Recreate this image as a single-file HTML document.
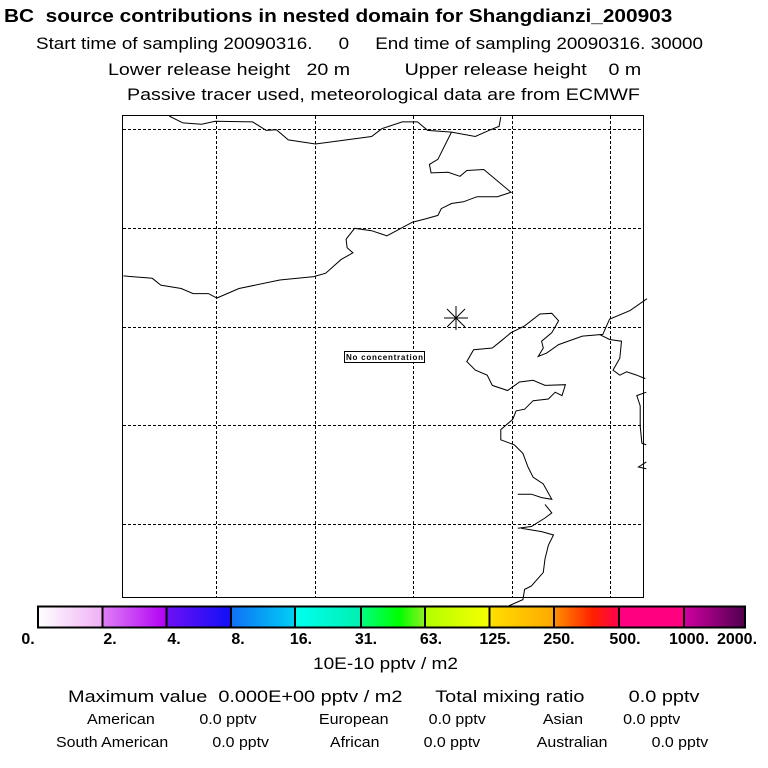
<!DOCTYPE html><html><head><style>
body{margin:0;background:#fff;width:768px;height:768px;overflow:hidden;font-family:"Liberation Sans",sans-serif;position:relative}
.t{position:absolute;white-space:pre;color:#000;transform-origin:0 0}
</style></head><body>
<div class="t" style="left:4px;top:6px;font-size:18px;font-weight:bold;transform:scaleX(1.156)">BC  source contributions in nested domain for Shangdianzi_200903</div>
<div class="t" style="left:36px;top:34px;font-size:17px;transform:scaleX(1.108)">Start time of sampling 20090316.     0     End time of sampling 20090316. 30000</div>
<div class="t" style="left:108px;top:60px;font-size:17px;transform:scaleX(1.154)">Lower release height   20 m          Upper release height    0 m</div>
<div class="t" style="left:127px;top:85px;font-size:17px;transform:scaleX(1.155)">Passive tracer used, meteorological data are from ECMWF</div>
<svg style="position:absolute;left:0;top:0" width="768" height="768">
<rect x="122.5" y="115.5" width="521" height="482" fill="none" stroke="#000"/>
<g stroke="#000" stroke-dasharray="3,2" stroke-width="1">
<line x1="216.5" y1="116" x2="216.5" y2="597"/><line x1="315.5" y1="116" x2="315.5" y2="597"/><line x1="413.5" y1="116" x2="413.5" y2="597"/><line x1="512.5" y1="116" x2="512.5" y2="597"/><line x1="610.5" y1="116" x2="610.5" y2="597"/>
<line x1="123" y1="129.5" x2="643" y2="129.5"/><line x1="123" y1="228.5" x2="643" y2="228.5"/><line x1="123" y1="327.5" x2="643" y2="327.5"/><line x1="123" y1="425.5" x2="643" y2="425.5"/><line x1="123" y1="524.5" x2="643" y2="524.5"/>
</g>
<g transform="translate(120,110) scale(0.34)" fill="none" stroke="#000" stroke-width="3">
<polyline points="145,18 185,38 240,42 280,33 390,35 430,60 460,58 495,88 575,100 740,78 770,55 830,35 875,35 905,60 975,65 1045,78 1090,58 1115,48 1120,20"/>
<polyline points="975,65 935,145 910,160 915,185 965,183 1000,195 1020,178 1070,175 1150,242 1110,255 1050,255 1010,270 975,275 945,290 935,310 900,320 860,330 785,370 740,355 690,348 665,380 668,405 685,420 650,440 605,480 570,490 470,500 350,525 285,553 260,540 215,540 180,525 120,515 95,495 10,488"/>
<polyline points="1550,555 1500,590 1440,615 1420,660 1360,665 1290,690 1255,715 1230,725 1245,700 1240,680 1270,655 1290,620 1270,598 1235,600 1190,635 1150,655 1120,680 1095,700 1040,705 1020,740 1045,765 1080,780 1095,810 1140,825 1175,800 1215,795 1250,810 1310,808 1300,840 1280,830 1260,850 1215,855 1190,880 1165,885 1155,910 1120,940 1120,970 1160,985 1185,1010 1200,1050 1215,1080 1245,1100 1270,1145 1240,1140 1210,1130 1170,1130"/>
<polyline points="1170,1230 1210,1225 1250,1200 1270,1185 1250,1160"/>
<polyline points="1180,1230 1240,1240 1275,1250 1260,1280 1250,1320 1245,1360 1210,1400 1190,1410 1185,1440 1140,1460 1150,1468"/>
<polyline points="1410,660 1440,675 1475,680 1470,730 1450,765 1470,780 1490,770 1520,780 1545,790"/>
<polyline points="1548,830 1520,840 1530,870 1530,930 1535,980 1548,985"/>
<polyline points="1548,1035 1525,1050 1548,1055"/>
</g>
<g stroke="#000" stroke-width="1">
<line x1="444" y1="318" x2="468" y2="318"/><line x1="456" y1="306" x2="456" y2="330"/><line x1="447" y1="309" x2="465" y2="327"/><line x1="465" y1="309" x2="447" y2="327"/>
</g>
<rect x="344.5" y="351.5" width="80" height="11" fill="#fff" stroke="#000"/>
<text x="346" y="360" font-size="8" font-weight="bold" font-family="Liberation Sans" textLength="77">No concentration</text>
<defs>
<linearGradient id="g0"><stop offset="0" stop-color="#fff"/><stop offset="1" stop-color="#efb0f5"/></linearGradient>
<linearGradient id="g1"><stop offset="0" stop-color="#e080f5"/><stop offset="1" stop-color="#b000f5"/></linearGradient>
<linearGradient id="g2"><stop offset="0" stop-color="#7010f5"/><stop offset="1" stop-color="#1010f5"/></linearGradient>
<linearGradient id="g3"><stop offset="0" stop-color="#1070f5"/><stop offset="1" stop-color="#00d0f5"/></linearGradient>
<linearGradient id="g4"><stop offset="0" stop-color="#00fff0"/><stop offset="1" stop-color="#00f0b0"/></linearGradient>
<linearGradient id="g5"><stop offset="0" stop-color="#00ff80"/><stop offset="0.6" stop-color="#00ff00"/><stop offset="1" stop-color="#90f020"/></linearGradient>
<linearGradient id="g6"><stop offset="0" stop-color="#b0ff00"/><stop offset="1" stop-color="#f8ff00"/></linearGradient>
<linearGradient id="g7"><stop offset="0" stop-color="#ffe000"/><stop offset="1" stop-color="#ffa800"/></linearGradient>
<linearGradient id="g8"><stop offset="0" stop-color="#ff9000"/><stop offset="0.6" stop-color="#ff2000"/><stop offset="1" stop-color="#ff0050"/></linearGradient>
<linearGradient id="g9"><stop offset="0" stop-color="#ff0080"/><stop offset="1" stop-color="#ff0080"/></linearGradient>
<linearGradient id="g10"><stop offset="0" stop-color="#d000a0"/><stop offset="1" stop-color="#500050"/></linearGradient>
</defs>
<g>
<rect x="38" y="607" width="64.5" height="20" fill="url(#g0)"/>
<rect x="102.5" y="607" width="64" height="20" fill="url(#g1)"/>
<rect x="166.5" y="607" width="64.5" height="20" fill="url(#g2)"/>
<rect x="231" y="607" width="64" height="20" fill="url(#g3)"/>
<rect x="295" y="607" width="66" height="20" fill="url(#g4)"/>
<rect x="361" y="607" width="64" height="20" fill="url(#g5)"/>
<rect x="425" y="607" width="64.5" height="20" fill="url(#g6)"/>
<rect x="489.5" y="607" width="64.5" height="20" fill="url(#g7)"/>
<rect x="554" y="607" width="65" height="20" fill="url(#g8)"/>
<rect x="619" y="607" width="65" height="20" fill="url(#g9)"/>
<rect x="684" y="607" width="61" height="20" fill="url(#g10)"/>
</g>
<rect x="38" y="606.5" width="707" height="21" fill="none" stroke="#000" stroke-width="2"/>
<g stroke="#000" stroke-width="2">
<line x1="102.5" y1="606" x2="102.5" y2="628"/><line x1="166.5" y1="606" x2="166.5" y2="628"/><line x1="231" y1="606" x2="231" y2="628"/><line x1="295" y1="606" x2="295" y2="628"/><line x1="361" y1="606" x2="361" y2="628"/><line x1="425" y1="606" x2="425" y2="628"/><line x1="489.5" y1="606" x2="489.5" y2="628"/><line x1="554" y1="606" x2="554" y2="628"/><line x1="619" y1="606" x2="619" y2="628"/><line x1="684" y1="606" x2="684" y2="628"/>
</g>
<g font-family="Liberation Sans" font-weight="bold" font-size="16" text-anchor="middle">
<text x="28" y="644">0.</text><text x="110" y="644">2.</text><text x="174" y="644">4.</text><text x="238" y="644">8.</text><text x="301" y="644">16.</text><text x="366" y="644">31.</text><text x="431" y="644">63.</text><text x="495" y="644">125.</text><text x="559" y="644">250.</text><text x="625" y="644">500.</text><text x="689" y="644">1000.</text><text x="737" y="644">2000.</text>
</g>
</svg>
<div class="t" style="left:313px;top:654px;font-size:17px;transform:scaleX(1.12)">10E-10 pptv / m2</div>
<div class="t" style="left:68px;top:687px;font-size:17px;transform:scaleX(1.17)">Maximum value  0.000E+00 pptv / m2      Total mixing ratio        0.0 pptv</div>
<div class="t" style="left:87px;top:711px;font-size:15px;transform:scaleX(1.07)">American          0.0 pptv              European         0.0 pptv             Asian         0.0 pptv</div>
<div class="t" style="left:56px;top:734px;font-size:15px;transform:scaleX(1.06)">South American          0.0 pptv              African          0.0 pptv             Australian          0.0 pptv</div>
</body></html>
